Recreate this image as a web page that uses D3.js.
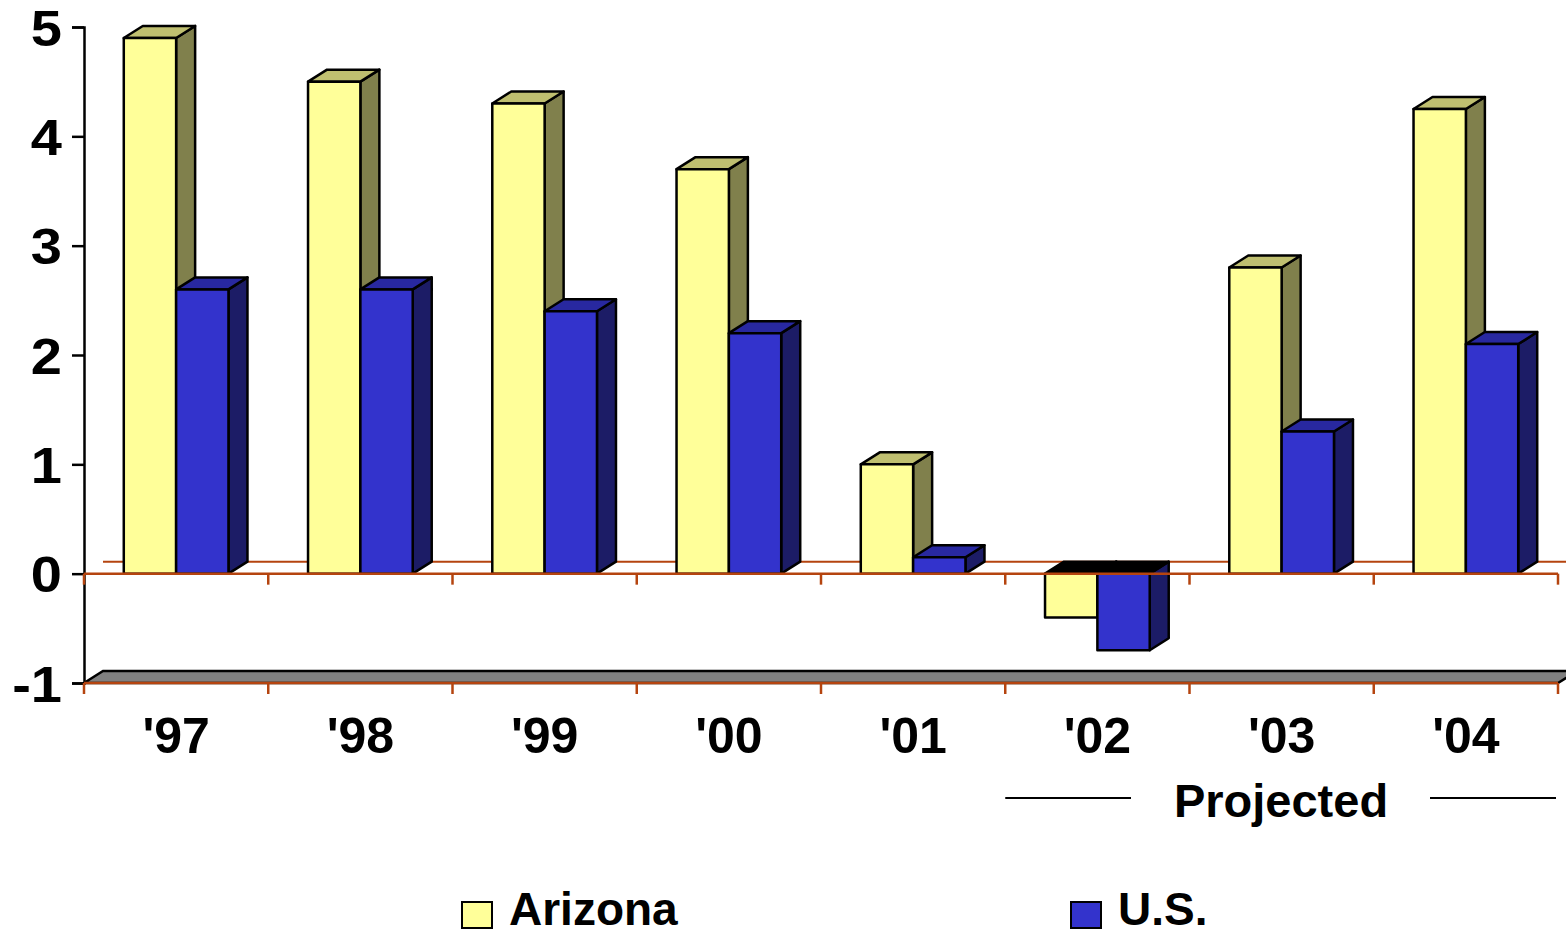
<!DOCTYPE html>
<html>
<head>
<meta charset="utf-8">
<script src="https://cdn.jsdelivr.net/npm/d3@7"></script>
<style>
  body { margin: 0; background: white; }
  text { font-family: "Liberation Sans", Arial, sans-serif; font-weight: bold; }
</style>
</head>
<body>
<svg width="1566" height="935"></svg>
<script>
let years = ["'97", "'98", "'99", "'00", "'01", "'02", "'03", "'04"]
let series = ["Arizona", "U.S."]
let arizona = [4.9, 4.5, 4.3, 3.7, 1.0, -0.4, 2.8, 4.25]
let us = [2.6, 2.6, 2.4, 2.2, 0.15, -0.7, 1.3, 2.1]
let yTicks = [-1, 0, 1, 2, 3, 4, 5]

let colors = {
  "Arizona": {front: "#FFFF99", top: "#BFBF70", side: "#80804C"},
  "U.S.": {front: "#3333CC", top: "#2828A0", side: "#1C1C66"}
}

let svg = d3.select("svg")
let orange = "#B5440F"
let dx = 19, dy = -12

let x = d3.scaleBand().domain(years).range([84, 1558])
let x1 = d3.scaleBand().domain(series).range([0, x.bandwidth()]).paddingOuter(0.76)
let y = d3.scaleLinear().domain([-1, 5]).range([683, 27])

// back wall zero line
svg.append("line")
  .attr("x1", 84 + dx).attr("x2", 1566)
  .attr("y1", y(0) + dy).attr("y2", y(0) + dy)
  .attr("stroke", orange).attr("stroke-width", 2)

// floor
let fy = y(-1)
svg.append("polygon")
  .attr("points", [[84, fy], [84 + dx, fy + dy], [1558 + dx, fy + dy], [1558, fy]].join(" "))
  .attr("fill", "#808080").attr("stroke", "black").attr("stroke-width", 2.5)

// y axis
let yAxis = svg.append("g")
  .attr("transform", "translate(84,0)")
  .call(d3.axisLeft(y).tickValues(yTicks).tickSize(12).tickPadding(8).tickFormat((d) => String(d)))
yAxis.select(".domain").attr("stroke", "black").attr("stroke-width", 2.5)
yAxis.selectAll(".tick line").attr("stroke", "black").attr("stroke-width", 2.5)
yAxis.selectAll("text")
  .attr("font-size", "50px")
  .attr("fill", "black")
  .attr("dy", "0.36em")
  .attr("transform", "scale(1.12,1)")
  .attr("x", -22 / 1.12)

// floor front line
svg.append("line")
  .attr("x1", 84).attr("x2", 1558)
  .attr("y1", fy).attr("y2", fy)
  .attr("stroke", orange).attr("stroke-width", 2.5)

// bars
let rows = []
years.forEach((yr, i) => {
  rows.push({year: yr, s: "Arizona", v: arizona[i]})
  rows.push({year: yr, s: "U.S.", v: us[i]})
})

let bars = svg.append("g")
rows.forEach((d) => {
  let x0 = x(d.year) + x1(d.s)
  let w = x1.bandwidth()
  let yTop = y(Math.max(d.v, 0))
  let yBot = y(Math.min(d.v, 0))
  let c = colors[d.s]
  let g = bars.append("g").attr("stroke", "black").attr("stroke-width", 2.5).attr("stroke-linejoin", "round")
  // side
  g.append("polygon")
    .attr("points", [[x0 + w, yTop], [x0 + w + dx, yTop + dy], [x0 + w + dx, yBot + dy], [x0 + w, yBot]].join(" "))
    .attr("fill", c.side)
  // top
  g.append("polygon")
    .attr("points", [[x0, yTop], [x0 + dx, yTop + dy], [x0 + w + dx, yTop + dy], [x0 + w, yTop]].join(" "))
    .attr("fill", d.v < 0 ? "black" : c.top)
  // front
  g.append("rect")
    .attr("x", x0).attr("y", yTop)
    .attr("width", w).attr("height", yBot - yTop)
    .attr("fill", c.front)
})

// front zero line
svg.append("line")
  .attr("x1", 84).attr("x2", 1558)
  .attr("y1", y(0)).attr("y2", y(0))
  .attr("stroke", orange).attr("stroke-width", 2.5)

// category ticks
let bounds = years.map((d) => x(d)).concat([x.range()[1]])
svg.append("g").selectAll("line")
  .data(bounds.flatMap((b) => [[b, y(0)], [b, y(-1)]]))
  .enter().append("line")
  .attr("x1", (d) => d[0]).attr("x2", (d) => d[0])
  .attr("y1", (d) => d[1]).attr("y2", (d) => d[1] + 11)
  .attr("stroke", orange).attr("stroke-width", 2.5)

// category labels
let xAxis = svg.append("g")
  .attr("transform", "translate(0," + y(-1) + ")")
  .call(d3.axisBottom(x).tickSize(0).tickPadding(34))
xAxis.select(".domain").remove()
xAxis.selectAll("text").attr("font-size", "50px").attr("fill", "black")

// projected marker
svg.append("text")
  .attr("x", 1281).attr("y", 817)
  .attr("text-anchor", "middle")
  .attr("font-size", "47px")
  .text("Projected")
svg.append("line").attr("x1", x("'02")).attr("x2", 1131).attr("y1", 798).attr("y2", 798)
  .attr("stroke", "black").attr("stroke-width", 2)
svg.append("line").attr("x1", 1430).attr("x2", x.range()[1] - 2).attr("y1", 798).attr("y2", 798)
  .attr("stroke", "black").attr("stroke-width", 2)

// legend
let legendX = [462, 1071]
let legend = svg.append("g")
series.forEach((s, i) => {
  legend.append("rect")
    .attr("x", legendX[i]).attr("y", 902)
    .attr("width", 30).attr("height", 26)
    .attr("fill", colors[s].front)
    .attr("stroke", "black").attr("stroke-width", 2)
  legend.append("text")
    .attr("x", legendX[i] + 47).attr("y", 925)
    .attr("font-size", "46px")
    .text(s)
})
</script>
</body>
</html>
